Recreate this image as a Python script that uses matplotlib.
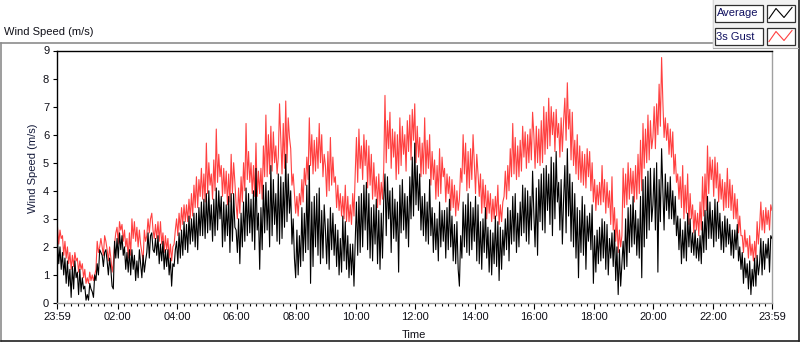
import numpy as np
import matplotlib
matplotlib.use("Agg")
import matplotlib.pyplot as plt
from matplotlib.patches import Rectangle

plt.rcParams['font.family'] = ['Liberation Sans', 'DejaVu Sans']

# ---- data ----
# Each hour has 12 five-minute slots; every slot holds two readings 2.5 min apart:
# the main reading and a companion reading (the opposite swing inside that slot).
avg_rows = [
    [2.2, 1.2, 1.8, 0.7, 1.5, 0.2, 1.3, 0.9, 1.1, 0.4, 0.9, 0.1],
    [0.3, 0.5, 0.4, 0.8, 1.4, 1.8, 1.7, 1.9, 1.5, 1.2, 0.6, 1.6],
    [2.3, 1.9, 2.4, 1.2, 1.8, 1.0, 1.9, 0.8, 1.5, 1.4, 0.9, 1.5],
    [1.8, 2.4, 2.5, 2.3, 1.7, 2.1, 1.5, 1.9, 1.3, 1.6, 0.6, 1.9],
    [2.2, 1.6, 2.6, 1.9, 2.8, 2.1, 3.0, 2.0, 3.2, 2.4, 3.6, 2.3],
    [3.9, 2.6, 3.5, 2.4, 4.1, 3.0, 3.8, 2.2, 3.5, 1.8, 3.9, 2.7],
    [2.6, 1.4, 3.2, 2.2, 4.1, 2.5, 3.7, 1.9, 4.8, 1.2, 3.4, 2.5],
    [4.3, 2.0, 4.9, 2.8, 3.9, 2.1, 4.5, 2.7, 5.3, 3.2, 4.0, 1.6],
    [0.9, 2.4, 1.3, 3.2, 1.8, 4.9, 0.7, 3.8, 2.0, 4.1, 1.4, 3.5],
    [2.6, 1.2, 3.4, 1.7, 2.8, 1.0, 2.3, 1.5, 2.9, 0.9, 2.1, 0.6],
    [2.2, 3.8, 1.8, 4.2, 2.6, 3.9, 1.6, 3.5, 2.1, 3.3, 1.2, 3.7],
    [4.6, 3.0, 4.0, 2.3, 3.7, 1.1, 4.2, 2.6, 3.9, 2.0, 4.5, 3.1],
    [5.7, 3.3, 4.6, 2.4, 3.9, 2.1, 4.4, 1.8, 3.2, 1.5, 3.6, 2.2],
    [3.3, 1.9, 3.7, 1.5, 2.8, 1.2, 0.6, 3.6, 2.0, 3.9, 1.7, 3.4],
    [2.2, 3.5, 1.4, 3.0, 1.8, 2.7, 1.1, 2.5, 1.4, 2.9, 0.8, 2.6],
    [1.7, 3.4, 1.5, 3.8, 2.2, 3.2, 2.0, 4.2, 2.5, 4.0, 2.1, 4.7],
    [3.2, 1.7, 4.4, 2.6, 4.8, 3.3, 4.6, 2.4, 5.0, 3.6, 4.3, 2.1],
    [3.7, 5.5, 3.1, 4.3, 2.0, 3.4, 0.9, 3.8, 1.7, 3.1, 2.2, 3.5],
    [0.7, 2.6, 1.4, 3.0, 1.6, 2.8, 1.0, 2.5, 1.3, 2.0, 0.3, 1.4],
    [2.2, 1.3, 3.4, 2.0, 3.8, 1.7, 3.0, 0.9, 4.4, 2.3, 4.7, 2.9],
    [3.5, 5.0, 1.1, 5.5, 4.0, 3.3, 4.3, 3.0, 4.0, 2.4, 3.1, 1.4],
    [2.6, 1.5, 3.2, 1.8, 2.5, 1.6, 2.3, 1.4, 2.9, 1.9, 3.8, 2.3],
    [3.3, 2.2, 3.6, 1.9, 2.9, 2.0, 3.0, 1.7, 2.6, 1.9, 2.8, 1.2],
    [1.8, 0.9, 1.4, 0.3, 1.2, 0.6, 1.7, 2.3, 1.0, 2.1, 1.6, 2.4],
]
avg_comp_rows = [
    [1.4, 2.0, 1.0, 1.6, 0.6, 1.2, 0.5, 1.5, 0.3, 1.2, 0.5, 0.6],
    [0.1, 0.7, 0.2, 1.0, 1.0, 1.9, 1.3, 1.8, 1.0, 1.6, 0.5, 2.2],
    [1.6, 2.5, 1.7, 2.0, 1.1, 1.9, 1.2, 1.7, 0.9, 1.9, 1.7, 1.1],
    [2.5, 1.6, 1.9, 1.8, 2.4, 1.4, 2.2, 1.2, 1.9, 1.0, 1.4, 1.3],
    [1.4, 2.5, 1.7, 2.9, 1.8, 3.1, 2.2, 3.2, 1.9, 3.4, 2.4, 3.7],
    [2.5, 4.0, 2.2, 3.7, 2.6, 4.0, 2.0, 3.6, 2.4, 3.8, 2.2, 3.9],
    [1.8, 3.0, 2.0, 3.6, 2.4, 3.9, 2.2, 4.0, 2.6, 3.2, 1.9, 4.2],
    [2.6, 4.0, 2.4, 4.4, 2.2, 4.6, 2.3, 4.3, 2.9, 4.6, 2.1, 3.0],
    [2.6, 1.0, 3.4, 1.5, 4.2, 1.9, 3.6, 1.3, 3.9, 1.7, 3.3, 1.6],
    [1.4, 3.0, 1.9, 3.2, 1.3, 2.6, 1.1, 3.1, 1.2, 2.4, 1.0, 2.1],
    [3.6, 1.7, 3.9, 2.0, 4.3, 1.9, 3.4, 1.5, 3.7, 1.4, 3.2, 1.6],
    [2.4, 4.5, 1.8, 4.1, 2.2, 3.6, 2.5, 4.4, 2.3, 3.8, 3.0, 5.2],
    [3.5, 4.9, 2.6, 3.8, 2.2, 3.6, 2.4, 3.4, 1.9, 3.0, 2.0, 3.3],
    [1.6, 3.4, 2.0, 3.1, 1.4, 2.9, 2.4, 1.6, 3.5, 1.8, 3.6, 1.9],
    [3.8, 1.5, 2.9, 1.2, 3.4, 1.6, 2.6, 1.0, 3.1, 1.3, 2.7, 1.2],
    [3.0, 1.9, 3.3, 2.1, 3.9, 1.8, 3.6, 2.4, 4.1, 2.2, 3.8, 2.6],
    [2.0, 4.1, 2.9, 4.6, 2.5, 4.9, 2.8, 5.2, 3.0, 5.4, 2.6, 4.4],
    [4.9, 2.5, 4.6, 2.2, 3.9, 1.6, 3.3, 1.8, 3.5, 1.2, 3.2, 1.9],
    [2.4, 1.1, 2.7, 1.5, 2.9, 1.2, 2.3, 1.6, 2.6, 0.8, 1.9, 0.6],
    [1.2, 3.0, 1.8, 3.5, 2.1, 3.3, 1.6, 3.8, 2.0, 4.5, 2.6, 4.8],
    [4.8, 2.6, 4.4, 2.9, 2.6, 4.6, 3.0, 4.5, 2.8, 3.8, 1.9, 3.0],
    [1.6, 2.9, 2.0, 3.0, 1.7, 2.6, 1.5, 2.4, 1.8, 3.3, 2.3, 3.6],
    [2.0, 3.7, 2.3, 3.2, 1.8, 3.1, 2.1, 2.8, 1.6, 2.6, 1.5, 2.0],
    [0.7, 1.6, 0.5, 1.5, 0.6, 1.6, 1.0, 1.4, 2.2, 1.2, 2.3, 1.1],
]
avg_last = 2.3

gust_rows = [
    [2.7, 2.3, 2.4, 1.6, 2.0, 1.2, 1.7, 1.5, 1.6, 1.2, 1.4, 0.7],
    [0.9, 0.8, 1.0, 1.2, 2.2, 2.3, 2.0, 2.2, 1.9, 1.6, 1.1, 2.5],
    [2.7, 2.6, 2.8, 2.0, 2.3, 1.7, 3.0, 2.2, 2.7, 2.1, 1.8, 2.2],
    [2.4, 3.0, 3.2, 2.8, 2.3, 2.9, 2.1, 2.4, 1.9, 2.1, 1.5, 2.6],
    [3.0, 2.6, 3.4, 2.9, 3.5, 3.0, 3.9, 3.4, 4.5, 3.8, 4.8, 3.6],
    [5.7, 4.2, 4.6, 4.0, 6.2, 4.5, 4.9, 3.9, 4.7, 3.6, 5.3, 4.3],
    [3.5, 3.2, 4.5, 4.0, 6.4, 4.3, 5.0, 3.8, 5.7, 3.9, 4.8, 4.5],
    [6.7, 4.6, 6.3, 5.0, 5.6, 7.1, 5.9, 4.8, 7.2, 5.9, 5.5, 3.9],
    [3.2, 3.9, 3.5, 4.8, 4.2, 6.6, 4.9, 5.8, 4.7, 6.4, 5.0, 5.3],
    [4.9, 4.0, 5.9, 4.3, 4.5, 3.3, 3.9, 3.0, 4.2, 2.9, 3.5, 3.1],
    [4.6, 6.2, 4.8, 6.0, 4.9, 5.6, 4.2, 5.0, 3.8, 4.6, 3.5, 4.8],
    [7.4, 5.5, 6.8, 5.2, 6.1, 4.6, 6.6, 5.3, 6.0, 5.4, 6.7, 5.8],
    [7.1, 5.2, 5.9, 4.6, 6.6, 4.8, 6.0, 4.4, 5.1, 3.8, 5.5, 4.5],
    [4.8, 3.9, 4.5, 3.4, 4.2, 3.3, 3.7, 6.0, 4.6, 5.4, 4.1, 6.0],
    [5.0, 4.6, 3.8, 4.4, 3.4, 4.0, 3.2, 3.7, 3.0, 4.2, 2.8, 3.6],
    [3.8, 4.9, 4.0, 6.4, 4.6, 5.6, 4.5, 6.3, 5.2, 6.0, 5.0, 6.8],
    [6.0, 5.0, 6.2, 5.0, 7.0, 5.5, 7.3, 6.0, 6.8, 5.9, 6.4, 5.4],
    [6.5, 7.85, 6.2, 6.8, 4.9, 6.0, 4.4, 5.4, 4.2, 5.5, 4.5, 5.0],
    [3.6, 4.2, 3.5, 4.9, 3.6, 4.3, 3.4, 4.5, 2.6, 3.0, 1.8, 2.4],
    [4.8, 3.5, 5.0, 3.9, 4.7, 3.7, 5.3, 4.0, 6.4, 5.0, 6.7, 5.5],
    [5.9, 7.1, 6.0, 8.75, 7.2, 5.8, 6.4, 5.2, 6.1, 4.3, 4.6, 3.4],
    [4.9, 3.2, 4.6, 3.0, 3.5, 2.6, 3.2, 2.6, 4.5, 3.3, 5.6, 4.4],
    [5.1, 4.1, 5.0, 3.7, 4.4, 3.4, 4.8, 3.3, 4.2, 3.0, 3.7, 2.4],
    [2.4, 2.0, 2.3, 1.7, 2.1, 1.6, 2.9, 3.6, 2.6, 3.4, 2.8, 3.5],
]
gust_comp_rows = [
    [2.1, 2.6, 1.7, 2.2, 1.4, 1.8, 1.3, 1.8, 1.1, 1.5, 0.9, 1.2],
    [0.7, 1.1, 0.8, 1.0, 1.8, 2.0, 1.7, 2.4, 1.5, 2.0, 1.4, 2.1],
    [2.1, 2.9, 2.2, 2.6, 1.6, 2.5, 2.3, 2.9, 2.0, 2.6, 1.5, 2.6],
    [3.0, 2.5, 2.6, 2.3, 2.9, 2.2, 2.5, 1.8, 2.3, 1.6, 2.0, 2.1],
    [2.4, 3.2, 2.8, 3.5, 2.9, 3.7, 3.1, 4.2, 3.4, 4.4, 3.7, 4.6],
    [3.9, 5.0, 3.7, 5.1, 4.3, 5.3, 3.8, 4.8, 3.5, 4.6, 3.9, 5.0],
    [3.0, 4.1, 3.6, 5.0, 4.4, 5.4, 3.9, 4.9, 3.8, 4.7, 3.7, 5.6],
    [4.5, 6.0, 4.7, 6.1, 4.6, 5.2, 4.6, 6.4, 5.0, 6.6, 4.2, 4.6],
    [3.8, 3.1, 4.4, 3.6, 5.2, 4.4, 6.0, 4.6, 5.9, 4.8, 6.0, 4.5],
    [3.8, 5.4, 4.2, 5.2, 3.4, 4.2, 3.1, 3.8, 2.9, 3.8, 2.8, 3.9],
    [5.9, 4.3, 5.6, 4.4, 5.8, 4.1, 5.3, 3.7, 4.5, 3.4, 4.3, 3.7],
    [5.0, 6.5, 4.8, 6.2, 4.4, 6.0, 4.9, 6.3, 4.7, 6.5, 5.1, 6.9],
    [5.0, 6.3, 4.5, 5.7, 4.6, 5.8, 4.2, 5.4, 3.7, 4.9, 3.9, 5.2],
    [3.6, 4.6, 3.3, 4.4, 3.1, 4.0, 4.8, 4.3, 5.7, 4.0, 5.5, 4.4],
    [3.9, 5.3, 4.6, 3.2, 4.2, 3.0, 3.9, 2.9, 3.8, 3.1, 3.5, 2.9],
    [4.7, 3.7, 5.5, 4.5, 5.9, 4.4, 5.8, 4.7, 6.1, 4.8, 6.2, 5.1],
    [4.8, 6.3, 4.9, 6.5, 5.3, 6.8, 5.6, 7.0, 5.4, 6.9, 5.2, 6.6],
    [7.3, 5.8, 6.9, 5.1, 5.8, 4.6, 5.6, 4.3, 5.3, 4.1, 5.4, 4.0],
    [4.4, 3.3, 4.3, 3.5, 4.4, 3.2, 4.0, 2.8, 3.4, 2.2, 2.6, 2.0],
    [3.4, 4.6, 3.7, 4.8, 3.6, 4.9, 3.9, 5.8, 4.8, 6.2, 5.1, 6.5],
    [7.0, 5.5, 7.8, 6.3, 5.9, 6.6, 5.3, 6.2, 4.6, 5.3, 3.7, 4.5],
    [3.0, 4.2, 2.8, 3.9, 2.5, 3.3, 2.4, 3.6, 3.1, 4.6, 3.9, 5.2],
    [3.8, 5.2, 3.6, 4.6, 3.3, 4.3, 3.4, 4.4, 3.0, 3.9, 2.5, 3.1],
    [1.8, 2.6, 1.6, 2.4, 1.5, 2.2, 2.1, 2.7, 3.3, 2.5, 3.3, 2.6],
]
gust_last = 3.3

sample_step_min = 2.5

tick_minutes = [0, 121, 241, 361, 481, 601, 721, 841, 961, 1081, 1201, 1321, 1440]
tick_labels = ['23:59', '02:00', '04:00', '06:00', '08:00', '10:00', '12:00',
               '14:00', '16:00', '18:00', '20:00', '22:00', '23:59']
y_ticks = list(range(0, 10))

series_names = ['Average', '3s Gust']
series_colors = ['#000000', '#ff4040']


def build_series(main_rows, comp_rows, last):
    out = []
    for mrow, crow in zip(main_rows, comp_rows):
        for i, (m, c) in enumerate(zip(mrow, crow)):
            out.extend([m, c] if i % 2 == 0 else [c, m])
    out.append(last)
    return out


average = build_series(avg_rows, avg_comp_rows, avg_last)
gust = build_series(gust_rows, gust_comp_rows, gust_last)
minutes = np.arange(len(average)) * sample_step_min

# ---- figure ----
W, H = 800, 342
fig = plt.figure(figsize=(W / 100, H / 100), dpi=100)
fig.patch.set_facecolor('white')


def fx(px):
    return px / W


def fy(py):
    return 1 - py / H


L, R, T, B = 57.5, 772.0, 50.5, 303.0
ax = fig.add_axes([fx(L), fy(B), fx(R) - fx(L), fy(T) - fy(B)])
ax.set_xlim(0, 1440)
ax.set_ylim(0, 9)

ax.plot(minutes, gust, color=series_colors[1], lw=0.8, zorder=2)
ax.plot(minutes, average, color=series_colors[0], lw=0.8, zorder=3)

ax.set_xticks(tick_minutes)
ax.set_xticklabels(tick_labels)
minor = []
for a, b in zip(tick_minutes[:-1], tick_minutes[1:]):
    minor.extend(np.linspace(a, b, 10)[1:-1])
ax.set_xticks(minor, minor=True)
ax.set_yticks(y_ticks)

ax.tick_params(axis='x', which='major', direction='out', length=4, width=0.8,
               colors='black', labelsize=8, pad=2.5)
ax.tick_params(axis='x', which='minor', direction='out', length=2.2, width=0.8,
               colors='black')
ax.tick_params(axis='y', which='major', direction='out', length=3, width=0.8,
               colors='black', labelsize=8, pad=3)
for lab in ax.get_xticklabels() + ax.get_yticklabels():
    lab.set_color('#101018')

ax.spines['left'].set_color('black')
ax.spines['top'].set_color('black')
ax.spines['right'].set_color('#a0a0a0')
ax.spines['bottom'].set_color('#a0a0a0')
for s in ax.spines.values():
    s.set_linewidth(1.0)

fig.text(fx(33), fy(168), 'Wind Speed (m/s)', rotation=90, ha='center',
         va='center', fontsize=8, color='#141a3a')
fig.text(fx(413.5), fy(335), 'Time', ha='center', va='center', fontsize=8,
         color='#101018')
fig.text(fx(4), fy(32), 'Wind Speed (m/s)', ha='left', va='center', fontsize=8,
         color='#101018')

# ---- frame and legend (pixel overlay) ----
ov = fig.add_axes([0, 0, 1, 1], zorder=5)
ov.set_xlim(0, W)
ov.set_ylim(H, 0)
ov.axis('off')
ov.patch.set_alpha(0)

ov.plot([0.5, 712], [42.5, 42.5], color='#8c8c8c', lw=1.2)
ov.plot([0.5, 0.5], [42.5, 341], color='#8c8c8c', lw=1.2)
ov.plot([0.5, 798.5], [341, 341], color='#202020', lw=1.2)
ov.plot([798.5, 798.5], [0, 341], color='#202020', lw=1.2)

ov.add_patch(Rectangle((712, 0), 86.5, 48, facecolor='#f2f2f2',
                       edgecolor='none'))
ov.plot([712.5, 712.5], [0, 48], color='#d8d8d8', lw=0.8)
ov.plot([712.5, 798], [48, 48], color='#a8a8a8', lw=0.8)

rows_y = [(4.5, 21.5), (27.5, 44.5)]
for (y0, y1), name, col in zip(rows_y, series_names, series_colors):
    ov.add_patch(Rectangle((714.5, y0), 48, y1 - y0, facecolor='white',
                           edgecolor='#303030', lw=0.9))
    ov.text(716.5, (y0 + y1) / 2 + 0.5, name, ha='left', va='center',
            fontsize=8, color='#101060')
    ov.add_patch(Rectangle((766.5, y0), 28.5, y1 - y0, facecolor='white',
                           edgecolor='#303030', lw=0.9))
    ov.plot([769, 776, 784, 792], [y1 - 3, y0 + 4, y1 - 4, y0 + 3],
            color=col, lw=0.8)

fig.savefig('out.png', dpi=100, facecolor='white')
